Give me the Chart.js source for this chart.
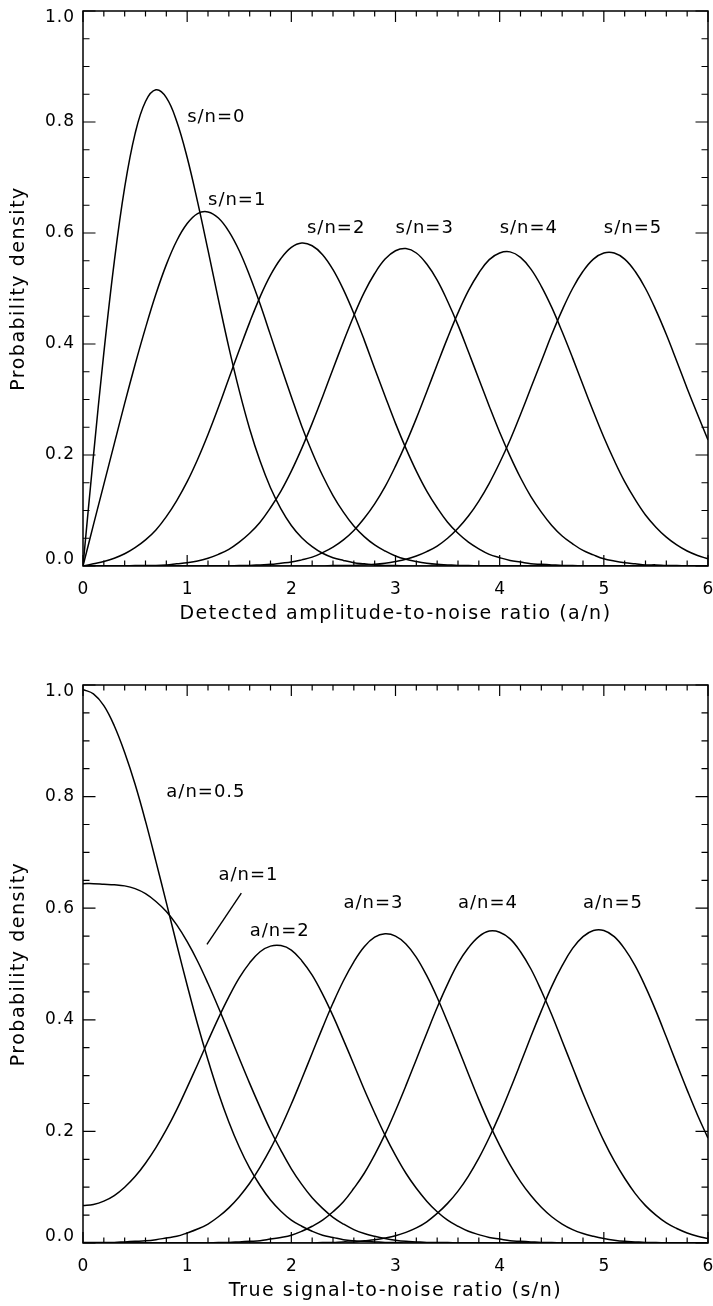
<!DOCTYPE html>
<html>
<head>
<meta charset="utf-8">
<script src="https://cdn.jsdelivr.net/npm/chart.js@4.4.1/dist/chart.umd.min.js"></script>
<style>
  html, body { margin: 0; padding: 0; background: #fff; }
  #page { position: relative; width: 713px; height: 1306px; }
  .panel { position: absolute; left: 0; width: 713px; height: 653px; }
</style>
</head>
<body>
<div id="page">
  <div class="panel" style="top:0"><canvas id="ampChart" width="713" height="653"></canvas></div>
  <div class="panel" style="top:653px"><canvas id="snrChart" width="713" height="653"></canvas></div>
</div>
<script>
// sample positions shared by every curve (ratio axis, 0..6)
const xs = [0.0, 0.1, 0.2, 0.3, 0.4, 0.5, 0.6, 0.7, 0.8, 0.9,
            1.0, 1.1, 1.2, 1.3, 1.4, 1.5, 1.6, 1.7, 1.8, 1.9,
            2.0, 2.1, 2.2, 2.3, 2.4, 2.5, 2.6, 2.7, 2.8, 2.9,
            3.0, 3.1, 3.2, 3.3, 3.4, 3.5, 3.6, 3.7, 3.8, 3.9,
            4.0, 4.1, 4.2, 4.3, 4.4, 4.5, 4.6, 4.7, 4.8, 4.9,
            5.0, 5.1, 5.2, 5.3, 5.4, 5.5, 5.6, 5.7, 5.8, 5.9, 6.0];

const xTickLabels = ['0', '1', '2', '3', '4', '5', '6'];
const yTickLabels = ['0.0', '0.2', '0.4', '0.6', '0.8', '1.0'];

// top panel: density of detected amplitude for a given true s/n
const ampLabels = ['s/n=0', 's/n=1', 's/n=2', 's/n=3', 's/n=4', 's/n=5'];
const snr0 = [0, 0.198, 0.384, 0.548, 0.682, 0.779, 0.837, 0.858, 0.844, 0.801,
              0.736, 0.656, 0.569, 0.480, 0.394, 0.316, 0.247, 0.189, 0.141, 0.103,
              0.073, 0.051, 0.035, 0.023, 0.015, 0.010, 0.006, 0.004, 0.002, 0.001,
              0.001, 0, 0, 0, 0, 0, 0, 0, 0, 0,
              0, 0, 0, 0, 0, 0, 0, 0, 0, 0,
              0, 0, 0, 0, 0, 0, 0, 0, 0, 0, 0];
const snr1 = [0, 0.074, 0.147, 0.220, 0.293, 0.363, 0.429, 0.490, 0.543, 0.586,
              0.617, 0.635, 0.638, 0.627, 0.603, 0.568, 0.523, 0.472, 0.416, 0.360,
              0.305, 0.252, 0.205, 0.163, 0.127, 0.097, 0.072, 0.053, 0.038, 0.027,
              0.018, 0.012, 0.008, 0.005, 0.003, 0.002, 0.001, 0.001, 0, 0,
              0, 0, 0, 0, 0, 0, 0, 0, 0, 0,
              0, 0, 0, 0, 0, 0, 0, 0, 0, 0, 0];
const snr2 = [0, 0.004, 0.008, 0.014, 0.022, 0.033, 0.047, 0.065, 0.089, 0.118,
              0.152, 0.192, 0.237, 0.286, 0.338, 0.389, 0.439, 0.485, 0.524, 0.554,
              0.574, 0.582, 0.577, 0.561, 0.534, 0.498, 0.455, 0.407, 0.356, 0.306,
              0.257, 0.212, 0.171, 0.135, 0.105, 0.079, 0.059, 0.043, 0.031, 0.021,
              0.015, 0.010, 0.007, 0.004, 0.003, 0.002, 0.001, 0.001, 0, 0,
              0, 0, 0, 0, 0, 0, 0, 0, 0, 0, 0];
const snr3 = [0, 0, 0, 0, 0, 0.001, 0.001, 0.001, 0.002, 0.004,
              0.006, 0.009, 0.014, 0.021, 0.030, 0.043, 0.059, 0.079, 0.105, 0.135,
              0.171, 0.212, 0.257, 0.305, 0.355, 0.404, 0.451, 0.493, 0.527, 0.553,
              0.568, 0.572, 0.564, 0.544, 0.515, 0.477, 0.434, 0.386, 0.337, 0.288,
              0.241, 0.198, 0.159, 0.125, 0.097, 0.073, 0.054, 0.040, 0.028, 0.020,
              0.013, 0.009, 0.006, 0.004, 0.002, 0.002, 0.001, 0.001, 0, 0, 0];
const snr4 = [0, 0, 0, 0, 0, 0, 0, 0, 0, 0,
              0, 0, 0, 0, 0, 0.001, 0.001, 0.002, 0.003, 0.005,
              0.007, 0.011, 0.016, 0.024, 0.034, 0.047, 0.064, 0.086, 0.112, 0.143,
              0.180, 0.221, 0.266, 0.314, 0.363, 0.411, 0.456, 0.496, 0.528, 0.552,
              0.564, 0.566, 0.556, 0.535, 0.504, 0.466, 0.422, 0.375, 0.326, 0.278,
              0.232, 0.190, 0.152, 0.120, 0.092, 0.070, 0.052, 0.038, 0.027, 0.019, 0.013];
const snr5 = [0, 0, 0, 0, 0, 0, 0, 0, 0, 0,
              0, 0, 0, 0, 0, 0, 0, 0, 0, 0,
              0, 0, 0, 0, 0.001, 0.001, 0.001, 0.002, 0.003, 0.005,
              0.008, 0.012, 0.018, 0.026, 0.036, 0.050, 0.068, 0.090, 0.117, 0.149,
              0.186, 0.227, 0.273, 0.321, 0.369, 0.417, 0.461, 0.500, 0.531, 0.553,
              0.564, 0.564, 0.553, 0.531, 0.500, 0.461, 0.417, 0.369, 0.320, 0.273, 0.227];

// bottom panel: density of true s/n for a given detected a/n
const snrLabels = ['a/n=0.5', 'a/n=1', 'a/n=2', 'a/n=3', 'a/n=4', 'a/n=5'];
const an05 = [0.992, 0.984, 0.963, 0.927, 0.879, 0.822, 0.756, 0.684, 0.610, 0.535,
              0.462, 0.392, 0.328, 0.269, 0.217, 0.172, 0.134, 0.103, 0.077, 0.057,
              0.041, 0.030, 0.021, 0.014, 0.010, 0.006, 0.004, 0.003, 0.002, 0.001,
              0.001, 0, 0, 0, 0, 0, 0, 0, 0, 0,
              0, 0, 0, 0, 0, 0, 0, 0, 0, 0,
              0, 0, 0, 0, 0, 0, 0, 0, 0, 0, 0];
const an1 = [0.644, 0.644, 0.643, 0.642, 0.640, 0.635, 0.626, 0.612, 0.594, 0.570,
             0.540, 0.505, 0.465, 0.422, 0.377, 0.331, 0.286, 0.243, 0.202, 0.166,
             0.133, 0.105, 0.081, 0.062, 0.046, 0.034, 0.024, 0.017, 0.012, 0.008,
             0.005, 0.003, 0.002, 0.001, 0.001, 0.001, 0, 0, 0, 0,
             0, 0, 0, 0, 0, 0, 0, 0, 0, 0,
             0, 0, 0, 0, 0, 0, 0, 0, 0, 0, 0];
const an2 = [0.067, 0.069, 0.075, 0.085, 0.100, 0.119, 0.143, 0.171, 0.203, 0.239,
             0.279, 0.320, 0.362, 0.403, 0.441, 0.475, 0.502, 0.522, 0.532, 0.533,
             0.525, 0.506, 0.480, 0.446, 0.407, 0.364, 0.320, 0.275, 0.233, 0.193,
             0.157, 0.125, 0.098, 0.075, 0.056, 0.041, 0.030, 0.021, 0.015, 0.010,
             0.007, 0.004, 0.003, 0.002, 0.001, 0.001, 0, 0, 0, 0,
             0, 0, 0, 0, 0, 0, 0, 0, 0, 0, 0];
const an3 = [0.001, 0.001, 0.001, 0.001, 0.002, 0.003, 0.004, 0.006, 0.009, 0.012,
             0.018, 0.025, 0.034, 0.047, 0.063, 0.083, 0.107, 0.136, 0.169, 0.207,
             0.249, 0.294, 0.340, 0.386, 0.430, 0.470, 0.504, 0.531, 0.548, 0.554,
             0.550, 0.536, 0.512, 0.479, 0.440, 0.396, 0.350, 0.303, 0.257, 0.214,
             0.175, 0.140, 0.110, 0.085, 0.064, 0.047, 0.034, 0.024, 0.017, 0.012,
             0.008, 0.005, 0.003, 0.002, 0.001, 0.001, 0, 0, 0, 0, 0];
const an4 = [0, 0, 0, 0, 0, 0, 0, 0, 0, 0,
             0, 0, 0, 0.001, 0.001, 0.002, 0.003, 0.004, 0.007, 0.010,
             0.014, 0.021, 0.030, 0.041, 0.056, 0.074, 0.098, 0.125, 0.158, 0.195,
             0.237, 0.282, 0.329, 0.376, 0.422, 0.464, 0.501, 0.529, 0.549, 0.559,
             0.557, 0.545, 0.522, 0.491, 0.452, 0.409, 0.362, 0.315, 0.268, 0.224,
             0.183, 0.147, 0.116, 0.089, 0.067, 0.050, 0.036, 0.026, 0.018, 0.012, 0.008];
const an5 = [0, 0, 0, 0, 0, 0, 0, 0, 0, 0,
             0, 0, 0, 0, 0, 0, 0, 0, 0, 0,
             0, 0, 0, 0.001, 0.001, 0.002, 0.002, 0.004, 0.006, 0.009,
             0.013, 0.019, 0.027, 0.038, 0.053, 0.071, 0.093, 0.120, 0.152, 0.189,
             0.230, 0.275, 0.322, 0.370, 0.416, 0.460, 0.497, 0.528, 0.549, 0.560,
             0.560, 0.549, 0.527, 0.497, 0.459, 0.416, 0.369, 0.321, 0.274, 0.229, 0.188];

const FONT = '"DejaVu Sans", sans-serif';

// IDL-style box: frame, inward ticks on all four sides, tick labels, titles, curve notes
const boxAxes = {
    id: 'boxAxes',
    afterDraw(chart, args, opts) {
        const { ctx, chartArea: a, scales: { x, y } } = chart;
        ctx.save();
        ctx.strokeStyle = '#000';
        ctx.fillStyle = '#000';
        ctx.lineWidth = 1.5;
        ctx.strokeRect(a.left, a.top, a.right - a.left, a.bottom - a.top);

        ctx.lineWidth = 1.2;
        ctx.beginPath();
        // x ticks every 0.2, major every 1
        for (let i = 0; i <= 30; i++) {
            const px = x.getPixelForValue(i * 0.2);
            const len = i % 5 === 0 ? 11 : 5.5;
            ctx.moveTo(px, a.bottom); ctx.lineTo(px, a.bottom - len);
            ctx.moveTo(px, a.top); ctx.lineTo(px, a.top + len);
        }
        // y ticks every 0.05, major every 0.2
        for (let i = 0; i <= 20; i++) {
            const py = y.getPixelForValue(i * 0.05);
            const len = i % 4 === 0 ? 12.5 : 6.5;
            ctx.moveTo(a.left, py); ctx.lineTo(a.left + len, py);
            ctx.moveTo(a.right, py); ctx.lineTo(a.right - len, py);
        }
        ctx.stroke();

        // tick labels
        ctx.font = '17px ' + FONT;
        ctx.letterSpacing = '1px';
        ctx.textBaseline = 'middle';
        ctx.textAlign = 'center';
        xTickLabels.forEach((t, i) => {
            ctx.fillText(t, x.getPixelForValue(i) + 0.5, a.bottom + 24);
        });
        ctx.textAlign = 'right';
        yTickLabels.forEach((t, i) => {
            let py = y.getPixelForValue(i * 0.2);
            if (i === 0) py -= 6;
            if (i === yTickLabels.length - 1) py += 7;
            ctx.fillText(t, a.left - 8, py);
        });

        // axis titles
        ctx.font = '19px ' + FONT;
        ctx.letterSpacing = '1.5px';
        ctx.textAlign = 'center';
        ctx.fillText(opts.xTitle, (a.left + a.right) / 2, a.bottom + 48);
        ctx.save();
        ctx.translate(19, (a.top + a.bottom) / 2);
        ctx.rotate(-Math.PI / 2);
        ctx.fillText('Probability density', 0, 0);
        ctx.restore();

        // curve notes, anchored in data coordinates
        ctx.font = '18px ' + FONT;
        ctx.letterSpacing = '1px';
        ctx.textAlign = 'left';
        ctx.textBaseline = 'alphabetic';
        opts.notes.forEach(n => {
            ctx.fillText(n.text, x.getPixelForValue(n.x), y.getPixelForValue(n.y));
        });
        if (opts.pointer) {
            const p = opts.pointer;
            ctx.lineWidth = 1.4;
            ctx.beginPath();
            ctx.moveTo(x.getPixelForValue(p[0]), y.getPixelForValue(p[1]));
            ctx.lineTo(x.getPixelForValue(p[2]), y.getPixelForValue(p[3]));
            ctx.stroke();
        }
        ctx.restore();
    }
};

function makePanel(canvasId, series, padding, xTitle, notes, pointer) {
    return new Chart(document.getElementById(canvasId), {
        type: 'line',
        data: {
            datasets: series.map(vals => ({
                data: xs.map((v, i) => ({ x: v, y: vals[i] })),
                borderColor: '#000',
                borderWidth: 1.5,
                pointRadius: 0,
                fill: false,
                tension: 0.4
            }))
        },
        options: {
            responsive: false,
            animation: false,
            events: [],
            layout: { padding: padding },
            plugins: {
                legend: { display: false },
                tooltip: { enabled: false },
                boxAxes: { xTitle: xTitle, notes: notes, pointer: pointer }
            },
            scales: {
                x: { type: 'linear', min: 0, max: 6, display: false },
                y: { type: 'linear', min: 0, max: 1, display: false }
            }
        },
        plugins: [boxAxes]
    });
}

makePanel('ampChart', [snr0, snr1, snr2, snr3, snr4, snr5],
    { left: 83, right: 5, top: 11, bottom: 87 },
    'Detected amplitude-to-noise ratio (a/n)',
    [
        { text: ampLabels[0], x: 1.0, y: 0.8 },
        { text: ampLabels[1], x: 1.2, y: 0.65 },
        { text: ampLabels[2], x: 2.15, y: 0.6 },
        { text: ampLabels[3], x: 3.0, y: 0.6 },
        { text: ampLabels[4], x: 4.0, y: 0.6 },
        { text: ampLabels[5], x: 5.0, y: 0.6 }
    ], null);

makePanel('snrChart', [an05, an1, an2, an3, an4, an5],
    { left: 83, right: 5, top: 32, bottom: 63 },
    'True signal-to-noise ratio (s/n)',
    [
        { text: snrLabels[0], x: 0.8, y: 0.8 },
        { text: snrLabels[1], x: 1.3, y: 0.65 },
        { text: snrLabels[2], x: 1.6, y: 0.55 },
        { text: snrLabels[3], x: 2.5, y: 0.6 },
        { text: snrLabels[4], x: 3.6, y: 0.6 },
        { text: snrLabels[5], x: 4.8, y: 0.6 }
    ], [1.52, 0.627, 1.19, 0.535]);
</script>
</body>
</html>
